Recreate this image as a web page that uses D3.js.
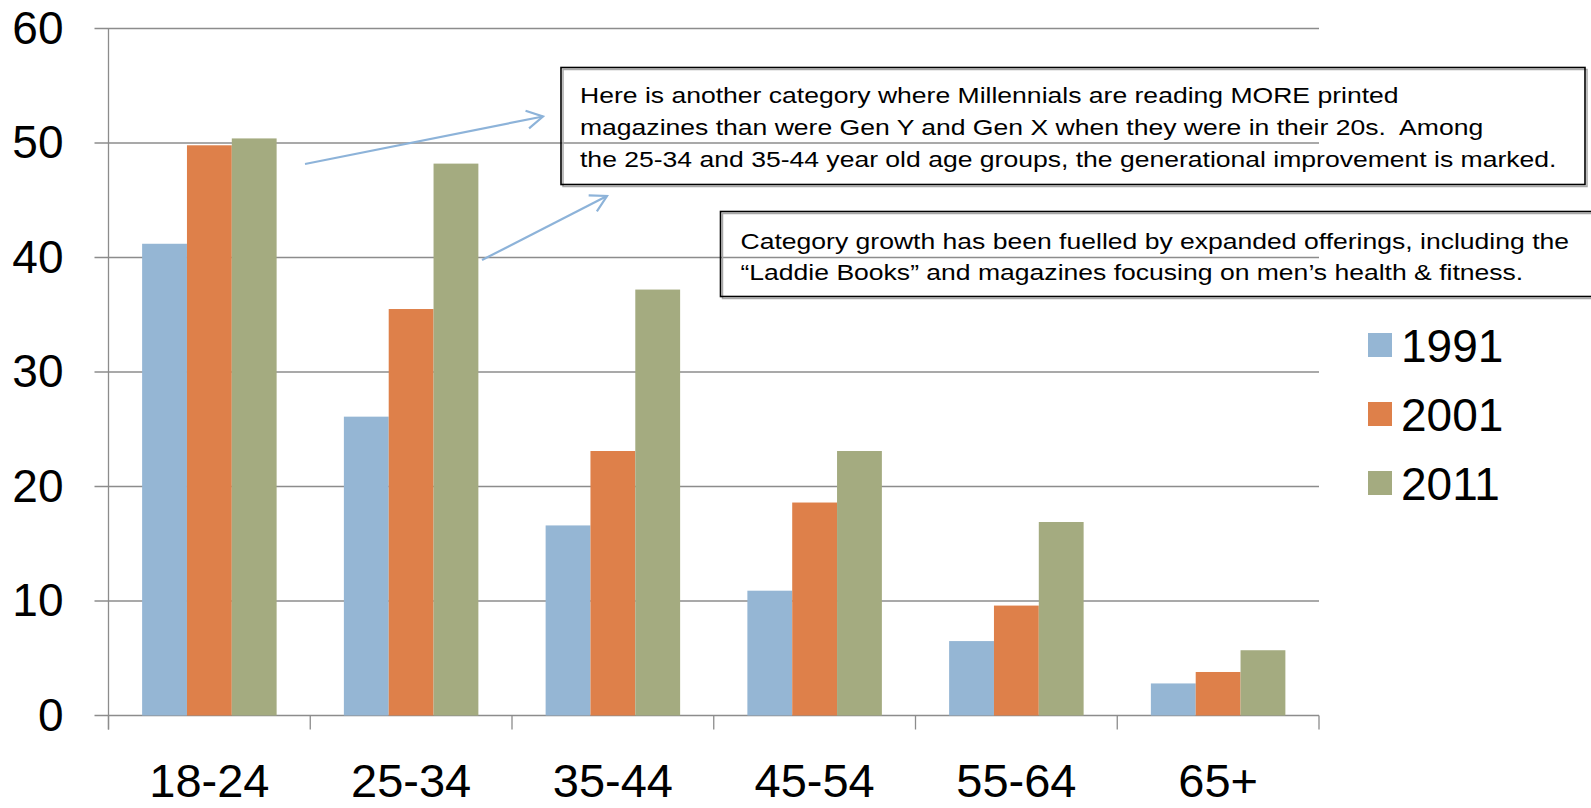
<!DOCTYPE html>
<html>
<head>
<meta charset="utf-8">
<script src="https://cdn.jsdelivr.net/npm/d3@7"></script>
<style>
  html, body { margin: 0; padding: 0; background: #fff; overflow: hidden; }
  svg { display: block; font-family: "Liberation Sans", Arial, sans-serif; }
</style>
</head>
<body>
<svg id="chart" width="1591" height="808"></svg>
<script>
// Magazine readership by age group, three survey years
const categories = ["18-24", "25-34", "35-44", "45-54", "55-64", "65+"];
const seriesNames = ["1991", "2001", "2011"];
const values1991 = [41.2, 26.1, 16.6, 10.9, 6.5, 2.8];
const values2001 = [49.8, 35.5, 23.1, 18.6, 9.6, 3.8];
const values2011 = [50.4, 48.2, 37.2, 23.1, 16.9, 5.7];
const yTicks = [0, 10, 20, 30, 40, 50, 60];

const noteTop = [
  "Here is another category where Millennials are reading MORE printed",
  "magazines than were Gen Y and Gen X when they were in their 20s.  Among",
  "the 25-34 and 35-44 year old age groups, the generational improvement is marked."
];
const noteBottom = [
  "Category growth has been fuelled by expanded offerings, including the",
  "\u201CLaddie Books\u201D and magazines focusing on men\u2019s health & fitness."
];

const colors = ["#95b6d4", "#de804a", "#a4ab80"];
const seriesValues = [values1991, values2001, values2011];

const svg = d3.select("#chart");
const plotLeft = 108.5, plotRight = 1319, plotTop = 28.5, plotBottom = 715.5;
const tickLen = 14;
const axisColor = "#8c8c8c";

const x0 = d3.scaleBand().domain(categories).range([plotLeft, plotRight]).paddingInner(0).paddingOuter(0);
const bw = x0.bandwidth();
const barW = bw / 4.5;
const x1 = d3.scaleBand().domain(seriesNames).range([barW * 0.75, barW * 3.75]).padding(0);
const y = d3.scaleLinear().domain([0, 60]).range([plotBottom, plotTop]);

// gridlines
svg.append("g")
  .selectAll("line")
  .data(yTicks)
  .join("line")
  .attr("x1", plotLeft - tickLen).attr("x2", plotRight)
  .attr("y1", d => y(d)).attr("y2", d => y(d))
  .attr("stroke", axisColor).attr("stroke-width", 1.3);

// y axis labels
const yAxis = d3.axisLeft(y).tickValues(yTicks).tickSize(0).tickPadding(45);
const gy = svg.append("g").attr("transform", `translate(${plotLeft},0)`).call(yAxis);
gy.select(".domain").remove();
gy.selectAll("text")
  .attr("font-size", 46)
  .attr("font-family", "'Liberation Sans', Arial, sans-serif")
  .attr("fill", "#000");

// bars
const groups = svg.append("g")
  .selectAll("g")
  .data(categories)
  .join("g")
  .attr("transform", d => `translate(${x0(d)},0)`);

groups.selectAll("rect")
  .data((c, ci) => seriesNames.map((s, si) => ({ s, si, v: seriesValues[si][ci] })))
  .join("rect")
  .attr("x", d => x1(d.s))
  .attr("width", x1.bandwidth())
  .attr("y", d => y(d.v))
  .attr("height", d => y(0) - y(d.v))
  .attr("fill", d => colors[d.si]);

// axis lines
svg.append("line")
  .attr("x1", plotLeft).attr("x2", plotLeft)
  .attr("y1", plotTop).attr("y2", plotBottom + tickLen)
  .attr("stroke", axisColor).attr("stroke-width", 1.3);

const xAxis = d3.axisBottom(x0).tickSize(0).tickPadding(48);
const gx = svg.append("g").attr("transform", `translate(0,${plotBottom})`).call(xAxis);
gx.select(".domain").remove();
gx.selectAll("text")
  .attr("font-size", 47)
  .attr("font-family", "'Liberation Sans', Arial, sans-serif")
  .attr("fill", "#000");

// category boundary ticks
const bounds = categories.map(c => x0(c)).concat([plotRight]);
svg.append("g")
  .selectAll("line")
  .data(bounds)
  .join("line")
  .attr("x1", d => d).attr("x2", d => d)
  .attr("y1", plotBottom).attr("y2", plotBottom + tickLen)
  .attr("stroke", axisColor).attr("stroke-width", 1.3);

// legend
const legend = svg.append("g")
  .selectAll("g")
  .data(seriesNames)
  .join("g")
  .attr("transform", (d, i) => `translate(1368,${333 + i * 69})`);
legend.append("rect")
  .attr("width", 24).attr("height", 24)
  .attr("fill", (d, i) => colors[i]);
legend.append("text")
  .attr("x", 33).attr("y", 29)
  .attr("font-size", 46)
  .attr("fill", "#000")
  .text(d => d);

// arrows
const arrowColor = "#8db3d9";
svg.append("defs").append("marker")
  .attr("id", "chev")
  .attr("markerUnits", "userSpaceOnUse")
  .attr("viewBox", "-20 -12 24 24")
  .attr("markerWidth", 24).attr("markerHeight", 24)
  .attr("refX", 0).attr("refY", 0)
  .attr("orient", "auto")
  .append("path")
  .attr("d", "M-16,-9L0,0L-16,9")
  .attr("fill", "none")
  .attr("stroke", arrowColor)
  .attr("stroke-width", 2.2);

const arrows = [
  [[305, 164], [543, 116.5]],
  [[482, 260], [607, 196]]
];
svg.append("g")
  .selectAll("line")
  .data(arrows)
  .join("line")
  .attr("x1", d => d[0][0]).attr("y1", d => d[0][1])
  .attr("x2", d => d[1][0]).attr("y2", d => d[1][1])
  .attr("stroke", arrowColor).attr("stroke-width", 2.2)
  .attr("marker-end", "url(#chev)");

// note boxes (transparent, text widened horizontally)
function noteBox(x, yTop, w, h, lines, textX, firstBase, lineStep) {
  const g = svg.append("g");
  g.append("rect")
    .attr("x", x + 2).attr("y", yTop + 2).attr("width", w).attr("height", h)
    .attr("fill", "none").attr("stroke", "#a8a8a8").attr("stroke-width", 1.5);
  g.append("rect")
    .attr("x", x).attr("y", yTop).attr("width", w).attr("height", h)
    .attr("fill", "none").attr("stroke", "#000").attr("stroke-width", 1.6);
  g.append("g")
    .attr("transform", `translate(${textX},0) scale(1.18,1)`)
    .selectAll("text")
    .data(lines)
    .join("text")
    .attr("x", 0)
    .attr("y", (d, i) => firstBase + i * lineStep)
    .attr("font-size", 22.5)
    .attr("fill", "#000")
    .attr("xml:space", "preserve")
    .style("white-space", "pre")
    .text(d => d);
}
noteBox(561, 67.5, 1024, 117, noteTop, 580, 103, 32.2);
noteBox(720.5, 211.5, 880, 85, noteBottom, 740.5, 249, 31.5);
</script>
</body>
</html>
